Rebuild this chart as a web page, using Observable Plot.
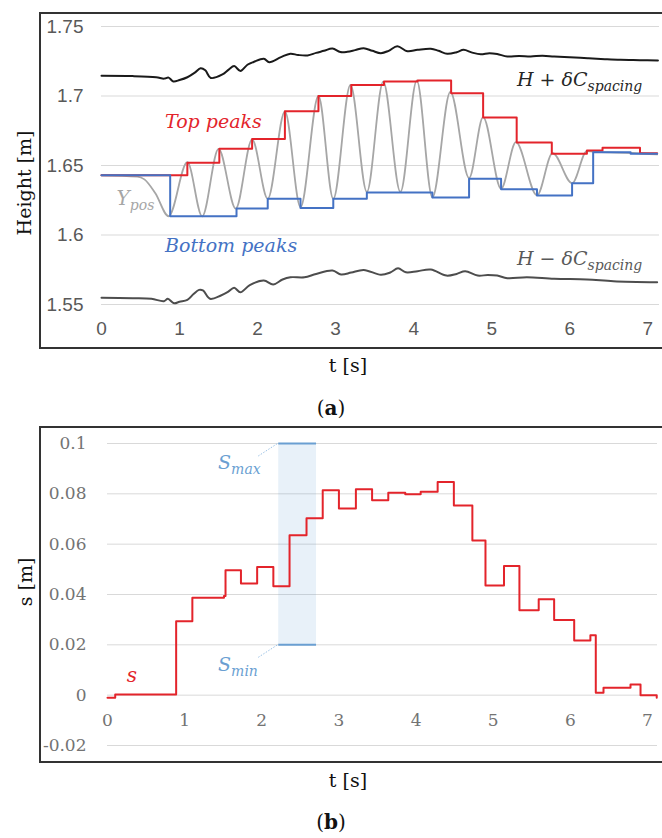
<!DOCTYPE html>
<html><head><meta charset="utf-8">
<script src="https://cdn.jsdelivr.net/npm/d3@7"></script>
<script src="https://cdn.jsdelivr.net/npm/@observablehq/plot@0.6"></script>
<style>
body{margin:0;background:#fff;}
#page{position:relative;width:662px;height:838px;overflow:hidden;background:#fff;}
.frame{position:absolute;border:2px solid #333;box-sizing:border-box;}
.lbl{position:absolute;font-family:"DejaVu Serif",serif;color:#111;white-space:nowrap;font-size:19px;line-height:1;}
</style></head><body><div id="page"></div>
<script>
// ---------- data ----------
const tTicks = [0, 1, 2, 3, 4, 5, 6, 7];
const heightTicks = [1.55, 1.6, 1.65, 1.7, 1.75];
const sTicks = [-0.02, 0, 0.02, 0.04, 0.06, 0.08, 0.1];

// H + dC_spacing
const hUpT = [0,0.4,0.7,0.8,0.86,0.92,1.0,1.1,1.2,1.27,1.33,1.4,1.55,1.63,1.7,1.78,1.87,1.95,2.08,2.15,2.3,2.42,2.52,2.64,2.75,2.85,2.96,3.06,3.15,3.25,3.36,3.47,3.58,3.68,3.79,3.92,4.05,4.22,4.32,4.43,4.55,4.64,4.75,4.86,4.97,5.07,5.2,5.35,5.5,5.65,5.8,6.0,6.23,6.45,6.65,6.9,7.13];
const hUpV = [1.7145,1.7143,1.7135,1.7125,1.7132,1.7105,1.7115,1.7135,1.717,1.7200,1.7185,1.713,1.7155,1.719,1.7215,1.718,1.7225,1.7245,1.7268,1.7243,1.728,1.7304,1.7295,1.7292,1.731,1.7325,1.7342,1.7316,1.7318,1.733,1.7344,1.7325,1.7308,1.7325,1.7358,1.7322,1.7332,1.734,1.7325,1.7304,1.7315,1.7332,1.7312,1.73,1.7308,1.7302,1.7284,1.7288,1.7285,1.729,1.7284,1.7278,1.7272,1.7265,1.726,1.7258,1.7256];
// H - dC_spacing
const hLoT = [0,0.4,0.64,0.8,0.85,0.93,1.0,1.1,1.18,1.25,1.3,1.39,1.53,1.62,1.7,1.78,1.9,2.08,2.2,2.32,2.42,2.6,2.75,2.96,3.07,3.2,3.36,3.58,3.7,3.8,3.9,4.05,4.22,4.42,4.55,4.66,4.82,4.95,5.07,5.2,5.45,5.8,6.22,6.56,7.12];
const hLoV = [1.5548,1.5545,1.5541,1.5524,1.5541,1.5509,1.552,1.5533,1.5575,1.5605,1.5601,1.5541,1.5565,1.559,1.562,1.5588,1.564,1.5672,1.5644,1.568,1.5696,1.5696,1.572,1.5744,1.5716,1.573,1.5749,1.5714,1.573,1.576,1.5732,1.574,1.5751,1.5708,1.572,1.5739,1.5708,1.5712,1.5708,1.5689,1.5696,1.5685,1.568,1.5668,1.566];
// Y_pos (extrema of the oscillation)
const yPosT = [0,0.46,0.55,0.69,0.86,1.10,1.29,1.50,1.72,1.93,2.13,2.35,2.55,2.78,2.97,3.19,3.40,3.61,3.83,4.04,4.24,4.47,4.71,4.89,5.12,5.31,5.58,5.78,6.03,6.22,6.35,6.8,7.12];
const yPosV = [1.643,1.642,1.640,1.630,1.6135,1.6524,1.6134,1.662,1.619,1.6688,1.626,1.689,1.620,1.700,1.626,1.708,1.631,1.7104,1.631,1.711,1.627,1.703,1.641,1.6848,1.6333,1.6668,1.6285,1.6589,1.6373,1.6603,1.6598,1.659,1.658];
// Top peaks
const topT = [0,1.10,1.51,1.93,2.35,2.78,3.20,3.62,4.05,4.48,4.89,5.32,5.77,6.22,6.42,6.90,7.12];
const topV = [1.643,1.652,1.662,1.669,1.689,1.700,1.708,1.7104,1.7112,1.702,1.6845,1.6665,1.6585,1.6608,1.6628,1.6589,1.6589];
// Bottom peaks
const botT = [0,0.88,1.73,2.13,2.55,2.97,3.40,4.24,4.71,5.12,5.58,6.03,6.30,6.78,7.12];
const botV = [1.643,1.6135,1.619,1.626,1.6195,1.626,1.6305,1.627,1.6405,1.633,1.6285,1.6373,1.6596,1.6585,1.6585];
// s
const sT = [0,0.1,0.89,1.1,1.51,1.53,1.73,1.94,2.15,2.36,2.58,2.79,3.0,3.22,3.43,3.64,3.86,4.06,4.28,4.49,4.73,4.9,5.14,5.34,5.59,5.79,6.05,6.26,6.33,6.43,6.78,6.91,7.12];
const sV = [-0.001,0.0003,0.0294,0.0387,0.0394,0.0496,0.0444,0.0509,0.0433,0.0635,0.0703,0.0814,0.0742,0.0818,0.0775,0.0804,0.0798,0.0808,0.0847,0.0754,0.0615,0.0436,0.0513,0.0337,0.0381,0.0299,0.0217,0.0238,0.001,0.0029,0.0042,0.0,-0.001];
// S_min / S_max window
const sWindowT = [2.22, 2.71];
const sBounds = [0.02, 0.1];

// ---------- helpers ----------
const zip = (ts, vs) => ts.map((t, i) => ({t, v: vs[i]}));
const page = document.getElementById("page");
const serif = "'DejaVu Serif', serif";

function annotate(chart, t, v, color, parts, size = 19) {
  const x = chart.scale("x").apply(t), y = chart.scale("y").apply(v);
  const txt = d3.select(chart).append("text").attr("x", x).attr("y", y)
    .attr("text-anchor", "start")
    .attr("fill", color).attr("font-family", serif).attr("font-size", size);
  for (const p of parts) {
    const ts = txt.append("tspan").text(p.s).attr("font-style", p.upright ? "normal" : "italic");
    if (p.sub) ts.attr("font-size", p.subSize || 13).attr("dy", 5);
  }
}
function place(el, left, top) {
  el.style.position = "absolute"; el.style.left = left + "px"; el.style.top = top + "px";
  page.appendChild(el);
}
function label(html, cx, cy, rotate, size) {
  const d = document.createElement("div");
  d.className = "lbl"; d.innerHTML = html;
  if (size) d.style.fontSize = size + "px";
  d.style.left = cx + "px"; d.style.top = cy + "px";
  d.style.transform = "translate(-50%,-50%)" + (rotate ? " rotate(-90deg)" : "");
  page.appendChild(d);
}
function frame(left, top, w, h) {
  const d = document.createElement("div"); d.className = "frame";
  Object.assign(d.style, {left: left + "px", top: top + "px", width: w + "px", height: h + "px"});
  page.appendChild(d);
}

// ---------- chart (a) ----------
const chartA = Plot.plot({
  width: 662, height: 350,
  marginLeft: 101, marginRight: 3, marginTop: 26, marginBottom: 46,
  style: {background: "transparent", fontFamily: "'Liberation Sans', Arial, sans-serif", fontSize: "19px", color: "#595959"},
  x: {domain: [0, 7.15]},
  y: {domain: [1.55, 1.75]},
  marks: [
    Plot.gridY(heightTicks, {stroke: "#d9d9d9", strokeOpacity: 1}),
    Plot.axisY(heightTicks, {tickSize: 0, tickPadding: 18, tickFormat: d => String(d), label: null}),
    Plot.axisX(tTicks, {tickSize: 0, tickPadding: 17, label: null}),
    Plot.line(zip(hUpT, hUpV), {x: "t", y: "v", stroke: "#1a1a1a", strokeWidth: 2, curve: "catmull-rom"}),
    Plot.line(zip(hLoT, hLoV), {x: "t", y: "v", stroke: "#4d4d4d", strokeWidth: 2, curve: "catmull-rom"}),
    Plot.line(zip(yPosT, yPosV), {x: "t", y: "v", stroke: "#a6a6a6", strokeWidth: 1.8, curve: "monotone-x"}),
    Plot.line(zip(topT, topV), {x: "t", y: "v", stroke: "#e3242b", strokeWidth: 2, curve: "step-after"}),
    Plot.line(zip(botT, botV), {x: "t", y: "v", stroke: "#4472c4", strokeWidth: 2, curve: "step-after"})
  ]
});
place(chartA, 0, 0);
annotate(chartA, 0.82, 1.6767, "#e3242b", [{s: "Top peaks"}]);
annotate(chartA, 0.82, 1.5877, "#4472c4", [{s: "Bottom peaks"}]);
annotate(chartA, 0.2, 1.6213, "#a6a6a6", [{s: "Y"}, {s: "pos", sub: true, subSize: 14}], 20);
annotate(chartA, 5.33, 1.7069, "#262626", [{s: "H"}, {s: " + ", upright: true}, {s: "δC"}, {s: "spacing", sub: true, subSize: 14}]);
annotate(chartA, 5.33, 1.5782, "#595959", [{s: "H"}, {s: " − ", upright: true}, {s: "δC"}, {s: "spacing", sub: true, subSize: 14}]);

// ---------- chart (b) ----------
const sWin = [{x1: sWindowT[0], x2: sWindowT[1], y1: sBounds[0], y2: sBounds[1]}];
const chartB = Plot.plot({
  width: 662, height: 360,
  marginLeft: 107, marginRight: 5, marginTop: 29, marginBottom: 29,
  style: {background: "transparent", fontFamily: serif, fontSize: "17px", color: "#737373"},
  x: {domain: [0, 7.13], axis: null},
  y: {domain: [-0.02, 0.1]},
  marks: [
    Plot.gridY(sTicks, {stroke: "#d9d9d9", strokeOpacity: 1}),
    Plot.axisY(sTicks, {tickSize: 0, tickPadding: 21, tickFormat: d => String(Math.round(d * 100) / 100), label: null}),
    Plot.text(tTicks, {x: d => d, text: d => String(d), frameAnchor: "bottom", dy: -20, fill: "#737373"}),
    Plot.rect(sWin, {x1: "x1", x2: "x2", y1: "y1", y2: "y2", fill: "#5b9bd5", fillOpacity: 0.14}),
    Plot.ruleY(sBounds, {x1: sWindowT[0], x2: sWindowT[1], stroke: "#6a9fd2", strokeWidth: 2}),
    Plot.line(zip(sT, sV), {x: "t", y: "v", stroke: "#e3242b", strokeWidth: 2, curve: "step-after"})
  ]
});
place(chartB, 0, 414);
annotate(chartB, 0.255, 0.0052, "#e3242b", [{s: "s"}], 20);
annotate(chartB, 1.44, 0.0897, "#6a9fd2", [{s: "S"}, {s: "max", sub: true, subSize: 14}]);
annotate(chartB, 1.44, 0.0095, "#6a9fd2", [{s: "S"}, {s: "min", sub: true, subSize: 14}]);
// dotted leaders from labels to the window edges
{
  const xs = chartB.scale("x"), ys = chartB.scale("y");
  for (const b of sBounds) {
    const x2 = xs.apply(sWindowT[0]), y2 = ys.apply(b);
    d3.select(chartB).append("line")
      .attr("x1", x2 - 20).attr("y1", y2 + 13).attr("x2", x2).attr("y2", y2)
      .attr("stroke", "#9dc3e6").attr("stroke-width", 1).attr("stroke-dasharray", "1.5,1.5");
  }
}

// ---------- frames & titles ----------
frame(39, 12, 640, 337);
frame(39, 426, 640, 337);
label("Height [m]", 24, 183, true);
label("t [s]", 348, 365);
label("(<b>a</b>)", 331, 408, false, 20);
label("s [m]", 25, 582, true);
label("t [s]", 348, 780);
label("(<b>b</b>)", 331, 822, false, 20);
</script>
</body></html>
